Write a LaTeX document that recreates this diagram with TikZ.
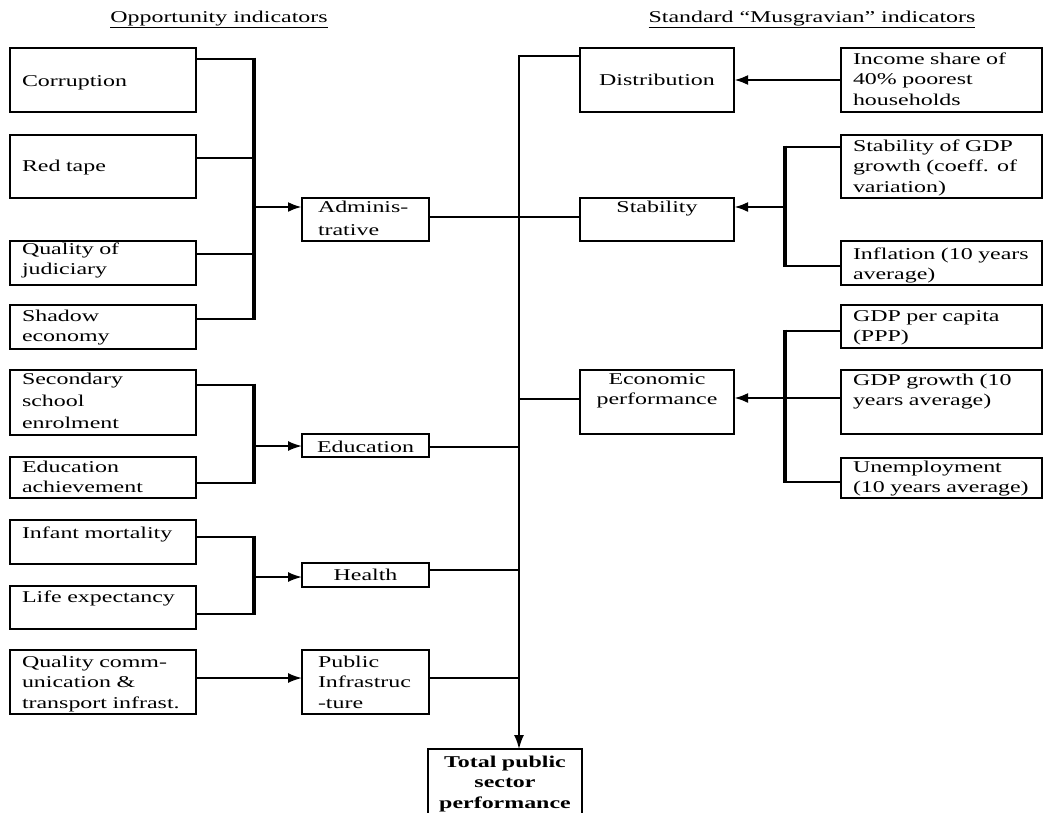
\documentclass[tikz,border=0pt]{standalone}
\usepackage{fontspec}
\setmainfont{Liberation Serif}[FakeStretch=1.45]
\usetikzlibrary{arrows.meta}
\tikzset{
  bx/.style={draw, line width=1.5pt, inner sep=0pt, outer sep=0pt, anchor=north west},
  tx/.style={inner sep=0pt, outer sep=0pt, anchor=base west, align=left, font=\fontsize{16.5}{20.5}\selectfont},
  tc/.style={inner sep=0pt, outer sep=0pt, anchor=base, align=center, font=\fontsize{16.5}{20.5}\selectfont},
  thinline/.style={line width=1.8pt},
  thickline/.style={line width=2.8pt},
  busbar/.style={line width=4.5pt, shorten <=-1.4pt, shorten >=-1.4pt},
  arr/.style={-{Latex[length=14pt,width=10pt]}},
}
\newcommand\bxn[5]{\node[bx,minimum width=#4pt,minimum height=#5pt] (#1) at (#2,#3) {};}
\begin{document}
\begin{tikzpicture}[x=1pt,y=-1pt]
\useasboundingbox (0,0) rectangle (1047,812);
\clip (0,0) rectangle (1047,812);
\fill[white] (0,0) rectangle (1047,812);

% headers
\node[tc] (hleft) at (219,22) {\underline{Opportunity indicators}};
\node[tc] (hright) at (812,22) {\underline{Standard “Musgravian” indicators}};

% left boxes
\bxn{corr}{10}{48}{186}{64}
\bxn{red}{10}{135}{186}{63}
\bxn{qjud}{10}{241}{186}{44}
\bxn{shad}{10}{305}{186}{44}
\bxn{sec}{10}{370}{186}{65}
\bxn{eduach}{10}{457}{186}{41}
\bxn{inf}{10}{520}{186}{44}
\bxn{life}{10}{586}{186}{43}
\bxn{qcomm}{10}{650}{186}{64}

% middle boxes
\bxn{admin}{302}{198}{127}{43}
\bxn{edu}{302}{434}{127}{23}
\bxn{health}{302}{563}{127}{24}
\bxn{pinfra}{302}{650}{127}{64}
\bxn{total}{428}{749}{154}{75}

% right middle boxes
\bxn{dist}{580}{48}{154}{64}
\bxn{stab}{580}{198}{154}{43}
\bxn{econ}{580}{370}{154}{64}

% right boxes
\bxn{income}{841}{48}{201}{64}
\bxn{sgdp}{841}{135}{201}{63}
\bxn{infl}{841}{241}{201}{44}
\bxn{gdppc}{841}{305}{201}{43}
\bxn{gdpgr}{841}{370}{201}{64}
\bxn{unemp}{841}{458}{201}{40}

% texts left
\node[tx,text width=170pt] (corrT) at (22,86) {Corruption};
\node[tx,text width=170pt] (redT) at (22,171) {Red tape};
\node[tx,text width=170pt] (qjudT) at (22,254) {Quality of\\judiciary};
\node[tx,text width=170pt] (shadT) at (22,321) {Shadow\\economy};
\node[tx,text width=170pt,font=\fontsize{16.5}{22}\selectfont] (secT) at (22,384) {Secondary\\school\\enrolment};
\node[tx,text width=170pt] (eduachT) at (22,472) {Education\\achievement};
\node[tx,text width=170pt] (infT) at (22,538) {Infant mortality};
\node[tx,text width=170pt] (lifeT) at (22,602) {Life expectancy};
\node[tx,text width=172pt] (qcT) at (22,667) {Quality comm-\\unication \&\\transport infrast.};

% texts middle
\node[tx,text width=110pt,font=\fontsize{16.5}{23}\selectfont] (adminT) at (318,212) {Adminis-\\trative};
\node[tc,text width=123pt] (eduT) at (365.5,452) {Education};
\node[tc,text width=123pt] (healthT) at (365.5,580) {Health};
\node[tx,text width=110pt] (pinfraT) at (318,667) {Public\\Infrastruc\\-ture};
\node[tc,text width=150pt,font=\fontsize{16.5}{20.5}\selectfont\bfseries] (totalT) at (505,767) {Total public\\sector\\performance};

% texts right middle
\node[tc,text width=150pt] (distT) at (657,85) {Distribution};
\node[tc,text width=150pt] (stabT) at (657,212) {Stability};
\node[tc,text width=150pt] (econT) at (657,384) {Economic\\performance};

% texts right
\node[tx,text width=180pt] (incomeT) at (853,64) {\makebox[160pt][s]{Income share of}\\40\% poorest\\households};
\node[tx,text width=180pt] (sgdpT) at (853,151) {\makebox[178pt][s]{Stability of GDP}\\\makebox[178pt][s]{growth (coeff. of}\\variation)};
\node[tx,text width=180pt] (inflT) at (853,259) {Inflation (10 years\\average)};
\node[tx,text width=180pt] (gdppcT) at (853,321) {GDP per capita\\(PPP)};
\node[tx,text width=180pt] (gdpgrT) at (853,385) {GDP growth (10\\years average)};
\node[tx,text width=180pt] (unempT) at (853,472) {Unemployment\\(10 years average)};

% ---- connectors: administrative group
\coordinate (aB1) at (254,59);
\coordinate (aB2) at (254,158);
\coordinate (aB3) at (254,254);
\coordinate (aB4) at (254,319);
\coordinate (aBA) at (254,207);
\draw[busbar] (aB1) -- (aB4);
\draw[thickline] (corr.east |- aB1) -- (aB1);
\draw[thickline] (red.east |- aB2) -- (aB2);
\draw[thickline] (qjud.east |- aB3) -- (aB3);
\draw[thickline] (shad.east |- aB4) -- (aB4);
\draw[thickline,arr] (aBA) -- (admin.west |- aBA);

% education group
\coordinate (dB1) at (254,385);
\coordinate (dB2) at (254,483);
\coordinate (dBA) at (254,446);
\draw[busbar] (dB1) -- (dB2);
\draw[thickline] (sec.east |- dB1) -- (dB1);
\draw[thinline] (eduach.east |- dB2) -- (dB2);
\draw[thinline,arr] (dBA) -- (edu.west |- dBA);

% health group
\coordinate (hB1) at (254,537);
\coordinate (hB2) at (254,614);
\coordinate (hBA) at (254,577);
\draw[busbar] (hB1) -- (hB2);
\draw[thickline] (inf.east |- hB1) -- (hB1);
\draw[thinline] (life.east |- hB2) -- (hB2);
\draw[thinline,arr] (hBA) -- (health.west |- hBA);

% public infrastructure
\coordinate (pA) at (250,678);
\draw[thinline,arr] (qcomm.east |- pA) -- (pinfra.west |- pA);

% main trunk
\coordinate (mTop) at (519,56);
\coordinate (mAd) at (519,217);
\coordinate (mEc) at (519,399);
\coordinate (mEd) at (519,447);
\coordinate (mHe) at (519,570);
\coordinate (mPi) at (519,678);
\draw[thinline,arr] (dist.west |- mTop) -- (mTop) -- (mTop |- total.north);
\draw[thinline] (admin.east |- mAd) -- (stab.west |- mAd);
\draw[thinline] (mEc) -- (econ.west |- mEc);
\draw[thinline] (edu.east |- mEd) -- (mEd);
\draw[thinline] (health.east |- mHe) -- (mHe);
\draw[thinline] (pinfra.east |- mPi) -- (mPi);

% right side
\draw[thickline,arr] (income.west) -- (dist.east);
\coordinate (sB1) at (785,147);
\coordinate (sB2) at (785,266);
\coordinate (sBA) at (785,207);
\draw[busbar] (sB1) -- (sB2);
\draw[thinline] (sgdp.west |- sB1) -- (sB1);
\draw[thinline] (infl.west |- sB2) -- (sB2);
\draw[thickline,arr] (sBA) -- (stab.east |- sBA);

\coordinate (eB1) at (785,331);
\coordinate (eB2) at (785,482);
\coordinate (eBA) at (785,398);
\draw[busbar] (eB1) -- (eB2);
\draw[thinline] (gdppc.west |- eB1) -- (eB1);
\draw[thinline] (unemp.west |- eB2) -- (eB2);
\draw[thickline,arr] (gdpgr.west |- eBA) -- (econ.east |- eBA);
\end{tikzpicture}
\end{document}
